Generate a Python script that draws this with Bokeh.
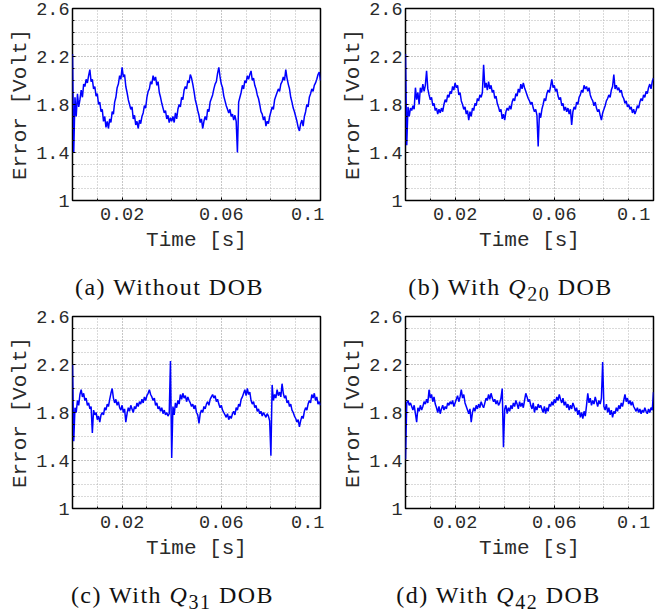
import numpy as np
from bokeh.plotting import figure
from bokeh.models import Range1d, FixedTicker, Div
from bokeh.layouts import column, row
from bokeh.embed import file_html
from bokeh.resources import INLINE

# ---------------- data ----------------
# sampling grid: 201 samples, 0.5 ms apart, 0 .. 0.1 s
time_s = np.arange(201) * 0.0005

ERR_WITHOUT_DOB = [
    2.22, 1.40, 1.86, 1.70, 1.89, 1.78, 1.84, 1.92, 1.86, 1.97,
    1.95, 2.01, 1.98, 2.04, 2.09, 1.99, 2.01, 1.93, 1.95, 1.87,
    1.89, 1.80, 1.82, 1.74, 1.76, 1.66, 1.70, 1.61, 1.66, 1.60,
    1.68, 1.65, 1.74, 1.72, 1.82, 1.86, 1.94, 1.97, 2.04, 2.01,
    2.11, 2.03, 2.05, 1.95, 1.90, 1.84, 1.80, 1.76, 1.78, 1.68,
    1.71, 1.63, 1.66, 1.60, 1.67, 1.64, 1.70, 1.73, 1.79, 1.77,
    1.86, 1.91, 1.93, 1.99, 1.97, 2.04, 2.00, 2.03, 1.96, 1.99,
    1.90, 1.86, 1.81, 1.77, 1.73, 1.75, 1.68, 1.71, 1.65, 1.69,
    1.66, 1.70, 1.65, 1.73, 1.68, 1.76, 1.80, 1.78, 1.86, 1.84,
    1.92, 1.95, 1.93, 2.00, 1.98, 2.05, 2.02, 1.97, 1.91, 1.84,
    1.80, 1.75, 1.71, 1.65, 1.68, 1.60, 1.66, 1.70, 1.67, 1.76,
    1.74, 1.82, 1.85, 1.88, 1.93, 1.97, 1.99, 2.06, 2.11, 2.03,
    1.97, 1.94, 1.87, 1.83, 1.79, 1.76, 1.73, 1.76, 1.70, 1.72,
    1.67, 1.71, 1.66, 1.40, 1.82, 1.86, 1.90, 1.96, 1.93, 2.00,
    1.98, 2.04, 2.01, 2.05, 2.08, 2.00, 2.02, 1.96, 1.93, 1.88,
    1.85, 1.80, 1.74, 1.72, 1.67, 1.70, 1.62, 1.66, 1.64, 1.70,
    1.74, 1.78, 1.76, 1.84, 1.87, 1.90, 1.93, 1.91, 1.97, 1.99,
    2.03, 2.00, 2.09, 2.02, 1.97, 1.93, 1.86, 1.82, 1.77, 1.74,
    1.70, 1.66, 1.61, 1.58, 1.64, 1.67, 1.62, 1.70, 1.74, 1.80,
    1.78, 1.86, 1.89, 1.93, 1.91, 1.96, 1.98, 2.01, 2.05, 2.07,
    2.00,
]

ERR_Q20 = [
    2.22, 1.46, 1.78, 1.70, 1.77, 1.75, 1.79, 1.76, 1.94, 1.84,
    1.90, 1.80, 1.94, 1.90, 1.97, 1.91, 1.96, 2.08, 1.93, 1.88,
    1.84, 1.86, 1.79, 1.81, 1.75, 1.77, 1.72, 1.76, 1.73, 1.77,
    1.74, 1.80, 1.84, 1.82, 1.88, 1.86, 1.91, 1.89, 1.95, 1.92,
    1.98, 1.94, 1.96, 1.88, 1.90, 1.83, 1.80, 1.76, 1.78, 1.72,
    1.75, 1.67, 1.74, 1.70, 1.77, 1.75, 1.81, 1.79, 1.85, 1.83,
    1.88, 1.86, 1.90, 2.13, 1.94, 1.98, 1.92, 1.99, 1.93, 1.96,
    1.90, 1.92, 1.85, 1.87, 1.81, 1.78, 1.74, 1.76, 1.68, 1.72,
    1.67, 1.74, 1.77, 1.75, 1.79, 1.76, 1.82, 1.85, 1.83, 1.89,
    1.87, 1.93, 1.90, 1.97, 1.93, 1.98, 1.94, 1.91, 1.88, 1.85,
    1.83, 1.80, 1.82, 1.77, 1.74, 1.76, 1.71, 1.45, 1.73, 1.69,
    1.76, 1.80, 1.85, 1.83, 1.89, 1.92, 1.90, 1.95, 2.01, 1.94,
    1.96, 1.91, 1.93, 1.87, 1.84, 1.86, 1.79, 1.81, 1.75, 1.78,
    1.74, 1.77, 1.72, 1.76, 1.63, 1.74, 1.78, 1.76, 1.82, 1.80,
    1.86, 1.88, 1.92, 1.90, 1.96, 1.93, 1.95, 1.91, 1.94, 1.88,
    1.85, 1.83, 1.79, 1.82, 1.77, 1.74, 1.76, 1.71, 1.67, 1.73,
    1.76, 1.79, 1.83, 1.85, 1.88, 1.86, 1.92, 1.95, 2.05, 1.93,
    1.96, 1.92, 1.94, 1.90, 1.92, 1.87, 1.85, 1.81, 1.83, 1.78,
    1.80, 1.76, 1.78, 1.73, 1.76, 1.72, 1.75, 1.79, 1.77, 1.82,
    1.85, 1.83, 1.88, 1.86, 1.91, 1.89, 1.94, 1.97, 1.93, 1.99,
    2.02,
]

ERR_Q31 = [
    2.20, 1.56, 1.84, 1.80, 1.90, 1.86, 1.95, 1.99, 1.93, 1.96,
    1.90, 1.92, 1.86, 1.88, 1.83, 1.85, 1.63, 1.82, 1.78, 1.80,
    1.74, 1.77, 1.72, 1.78, 1.80, 1.78, 1.84, 1.82, 1.87, 1.85,
    1.91, 1.96, 2.00, 1.92, 1.88, 1.91, 1.86, 1.89, 1.84, 1.82,
    1.86, 1.80, 1.83, 1.72, 1.79, 1.84, 1.81, 1.86, 1.83, 1.80,
    1.85, 1.83, 1.88, 1.85, 1.89, 1.87, 1.91, 1.88, 1.93, 1.90,
    1.94, 1.96, 1.99, 1.95, 1.93, 1.90, 1.92, 1.86, 1.88, 1.83,
    1.85, 1.81, 1.84, 1.79, 1.82, 1.78, 1.80, 1.77, 1.79, 2.23,
    1.42, 1.85, 1.78, 1.88, 1.84, 1.90, 1.87, 1.95, 1.91, 1.96,
    1.92, 1.94, 1.89, 1.93, 1.90, 1.88, 1.85, 1.87, 1.83, 1.86,
    1.80, 1.78, 1.71, 1.79, 1.82, 1.80, 1.85, 1.83, 1.87, 1.89,
    1.86, 1.91, 1.93, 1.95, 1.92, 1.94, 1.89, 1.91, 1.87, 1.84,
    1.86, 1.82, 1.80, 1.78, 1.76, 1.79, 1.74, 1.77, 1.75, 1.79,
    1.81, 1.78, 1.84, 1.82, 1.87, 1.85, 1.91, 1.93, 1.96, 1.99,
    1.94, 2.00, 1.95, 1.97, 1.90, 1.87, 1.89, 1.84, 1.86, 1.81,
    1.83, 1.79, 1.81, 1.77, 1.80, 1.78, 1.76, 1.79, 1.77, 1.73,
    1.44, 2.03, 1.90, 1.95, 1.92, 1.99, 1.94, 1.97, 1.93, 2.04,
    1.96, 1.92, 1.94, 1.88, 1.90, 1.85, 1.87, 1.82, 1.80, 1.77,
    1.75, 1.72, 1.74, 1.68, 1.73, 1.77, 1.75, 1.81, 1.84, 1.82,
    1.87, 1.90, 1.88, 1.95, 1.92, 1.96, 1.90, 1.93, 1.87, 1.89,
    1.86,
]

ERR_Q42 = [
    1.41, 1.88, 1.90, 1.86, 1.88, 1.85, 1.82, 1.86, 1.79, 1.72,
    1.84, 1.81, 1.86, 1.82, 1.85, 1.89, 1.87, 1.91, 1.88, 1.99,
    1.92, 1.95, 1.89, 1.93, 1.87, 1.84, 1.80, 1.85, 1.79, 1.83,
    1.86, 1.82, 1.85, 1.83, 1.88, 1.86, 1.89, 1.87, 1.90, 1.85,
    1.88, 1.91, 1.94, 1.89, 1.93, 1.99, 1.92, 1.95, 1.88, 1.85,
    1.82, 1.79, 1.83, 1.72, 1.80, 1.84, 1.81, 1.86, 1.83, 1.87,
    1.84, 1.89, 1.86, 1.84, 1.88, 1.92, 1.90, 1.95, 1.91, 1.96,
    1.92, 1.89, 1.91, 1.87, 1.90, 1.86, 1.88, 1.92, 2.00, 1.51,
    1.83, 1.86, 1.79, 1.84, 1.81, 1.86, 1.83, 1.88, 1.85, 1.90,
    1.87, 1.83, 1.89, 1.85, 1.88, 1.84, 1.90, 1.96, 1.93, 1.89,
    1.91, 1.86, 1.83, 1.88, 1.80, 1.85, 1.82, 1.87, 1.84, 1.86,
    1.83, 1.80, 1.85, 1.79, 1.84, 1.81, 1.87, 1.85, 1.89, 1.86,
    1.91, 1.88, 1.93, 1.90, 1.95, 1.91, 1.88, 1.92, 1.86, 1.89,
    1.84, 1.87, 1.82, 1.86, 1.83, 1.88, 1.85, 1.81, 1.84, 1.78,
    1.82, 1.76, 1.80, 1.75, 1.81, 1.77, 1.86, 1.96, 1.88, 1.92,
    1.86, 1.90, 1.87, 1.93, 1.89, 1.85, 1.90, 1.87, 1.92, 2.22,
    1.85, 1.82, 1.87, 1.80, 1.84, 1.78, 1.82, 1.76, 1.81, 1.79,
    1.84, 1.81, 1.86, 1.83, 1.88, 1.85, 1.90, 1.95, 1.89, 1.92,
    1.87, 1.90, 1.86, 1.89, 1.85, 1.83, 1.81, 1.84, 1.80, 1.83,
    1.79, 1.82, 1.80, 1.84, 1.81, 1.79, 1.83, 1.80, 1.84, 1.82,
    1.97,
]

X_MAJOR_TICKS = [0.02, 0.06, 0.1]
X_MAJOR_LABELS = ["0.02", "0.06", "0.1"]
X_MINOR_TICKS = [0.0, 0.01, 0.02, 0.03, 0.04, 0.05, 0.06, 0.07, 0.08, 0.09, 0.1]
Y_MAJOR_TICKS = [1.0, 1.4, 1.8, 2.2, 2.6]
Y_MAJOR_LABELS = ["1", "1.4", "1.8", "2.2", "2.6"]
Y_MINOR_TICKS = [1.0, 1.1, 1.2, 1.3, 1.4, 1.5, 1.6, 1.7, 1.8, 1.9,
                 2.0, 2.1, 2.2, 2.3, 2.4, 2.5, 2.6]

X_LABEL = "Time [s]"
Y_LABEL = "Error [Volt]"
CAPTIONS = [
    "(a) Without DOB",
    "(b) With <i>Q</i><sub>20</sub> DOB",
    "(c) With <i>Q</i><sub>31</sub> DOB",
    "(d) With <i>Q</i><sub>42</sub> DOB",
]

# ---------------- styling ----------------
MONO = "Liberation Mono"
SERIF = "Liberation Serif"
TXT = "#2a2a2a"
GRID = "#b4b4b4"


def x_override(v, lab):
    # the last label sits just inside the frame edge, as in the original
    if v == X_MAJOR_TICKS[-1]:
        return lab + "\u00a0"
    return lab


def make_panel(series, width, height, b_left, b_right, b_top, b_bottom):
    p = figure(width=width, height=height, output_backend="svg",
               toolbar_location=None, tools="",
               x_range=Range1d(0, 0.1), y_range=Range1d(1, 2.6),
               min_border_left=b_left, min_border_right=b_right,
               min_border_top=b_top, min_border_bottom=b_bottom,
               background_fill_color="white", border_fill_color="white")
    p.outline_line_color = "black"
    p.outline_line_width = 1.5
    p.outline_line_alpha = 1.0

    xt = FixedTicker(ticks=X_MAJOR_TICKS, minor_ticks=X_MINOR_TICKS)
    yt = FixedTicker(ticks=Y_MAJOR_TICKS, minor_ticks=Y_MINOR_TICKS)
    p.xaxis.ticker = xt
    p.yaxis.ticker = yt
    p.xgrid.ticker = xt
    p.ygrid.ticker = yt
    p.xaxis.major_label_overrides = {v: x_override(v, l) for v, l in zip(X_MAJOR_TICKS, X_MAJOR_LABELS)}
    p.yaxis.major_label_overrides = {v: l for v, l in zip(Y_MAJOR_TICKS, Y_MAJOR_LABELS)}

    for ax in (p.xaxis[0], p.yaxis[0]):
        ax.axis_line_color = None
        ax.major_tick_in = 3
        ax.major_tick_out = 0
        ax.minor_tick_in = 2
        ax.minor_tick_out = 0
        ax.major_tick_line_color = "black"
        ax.minor_tick_line_color = "black"
        ax.major_label_text_font = MONO
        ax.major_label_text_font_size = "18.5px"
        ax.major_label_text_color = TXT
        ax.axis_label_text_font = MONO
        ax.axis_label_text_font_size = "21px"
        ax.axis_label_text_font_style = "normal"
        ax.axis_label_text_color = TXT
    p.xaxis.axis_label = X_LABEL
    p.yaxis.axis_label = Y_LABEL
    p.xaxis.major_label_standoff = 4
    p.xaxis.axis_label_standoff = 0
    p.yaxis.major_label_standoff = 3
    p.yaxis.axis_label_standoff = 1

    for g in (p.xgrid[0], p.ygrid[0]):
        g.grid_line_color = GRID
        g.grid_line_dash = "1 2"
        g.grid_line_width = 1
        g.minor_grid_line_color = GRID
        g.minor_grid_line_dash = "1 2"
        g.minor_grid_line_width = 1

    p.line(time_s, series, line_color="#0000ff", line_width=1.5)
    return p


def caption(html, width, height, pad_top, line_h, pad_left):
    txt = ('<div style="display:block;box-sizing:border-box;width:%dpx;'
           'padding-top:%dpx;padding-left:%dpx;line-height:%dpx;'
           'font-family:\'%s\';font-size:24px;letter-spacing:1.5px;color:#111;'
           'text-align:center;white-space:nowrap;">%s</div>'
           % (width, pad_top, pad_left, line_h, SERIF, html))
    d = Div(text=txt, width=width, height=height, margin=(0, 0, 0, 0))
    d.styles = {"width": "%dpx" % width, "text-align": "center"}
    return d


LW, RW = 335, 326
pa = make_panel(ERR_WITHOUT_DOB, LW, 254, 72, 15, 8, 50)
pb = make_panel(ERR_Q20, RW, 254, 70, 8, 8, 50)
pc = make_panel(ERR_Q31, LW, 262, 72, 15, 16, 50)
pd = make_panel(ERR_Q42, RW, 262, 70, 8, 16, 50)

ca = caption(CAPTIONS[0], LW, 46, 20, 26, 4)
cb = caption(CAPTIONS[1], RW, 46, 20, 26, 25)
cc = caption(CAPTIONS[2], LW, 48, 20, 26, 10)
cd = caption(CAPTIONS[3], RW, 48, 20, 26, 1)

layout = column(
    row(column(pa, ca, spacing=0), column(pb, cb, spacing=0), spacing=0),
    row(column(pc, cc, spacing=0), column(pd, cd, spacing=0), spacing=0),
    spacing=0,
)

with open("out.html", "w") as f:
    f.write(file_html(layout, INLINE, title="DOB error comparison"))
